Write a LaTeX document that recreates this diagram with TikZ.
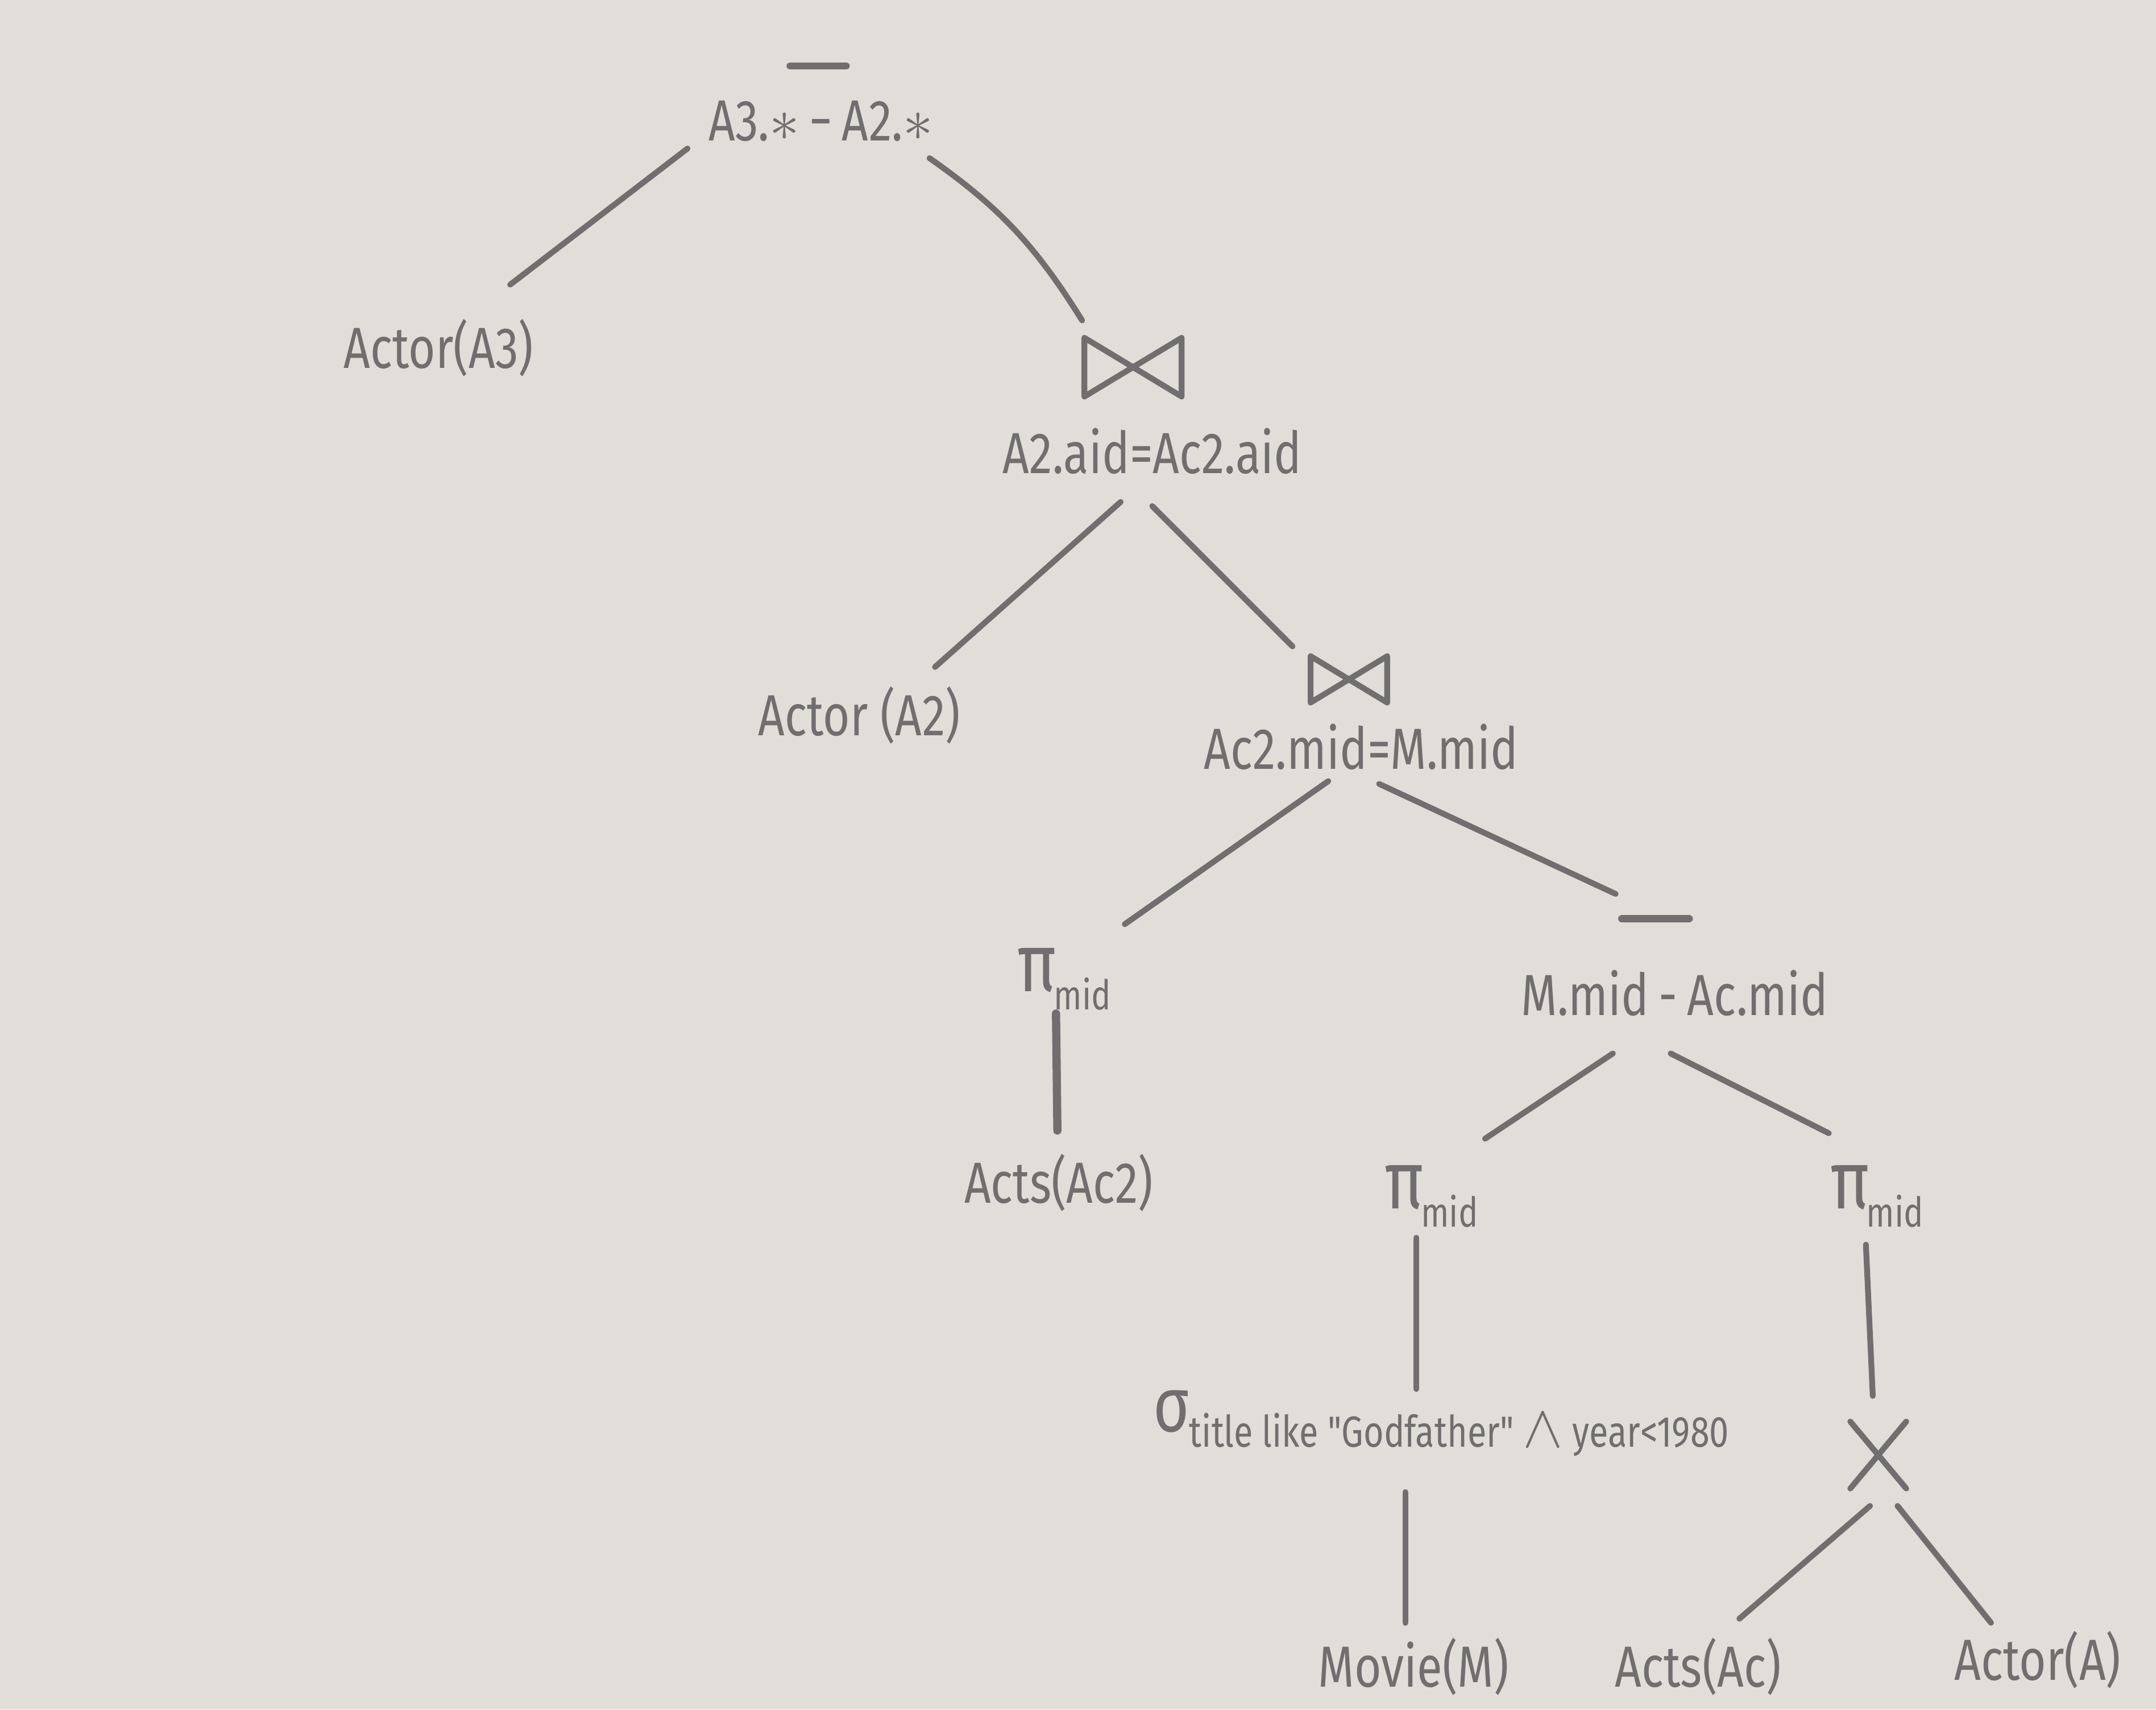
\documentclass[tikz,border=0pt]{standalone}
\usepackage{fontspec}
\setmainfont{Fira Sans}[FakeStretch=0.8, Ligatures=TeXOff]
\usetikzlibrary{calc}
\definecolor{paper}{RGB}{225,222,218}
\definecolor{ink}{RGB}{112,110,110}
\newcommand{\pimid}{{\fontsize{34}{34}\selectfont π}\kern-0.05em\raisebox{-0.6ex}{\fontsize{17}{18}\selectfont mid}}
\begin{document}
\begin{tikzpicture}[x=0.02cm,y=-0.02cm,
  lbl/.style={text=ink, font=\fontsize{24}{28}\selectfont, inner sep=0pt},
  edge/.style={draw=ink, line width=2.4pt, line cap=round, line join=round},
  barnode/.style={inner sep=0pt, minimum height=0pt, minimum width=#1},
  symnode/.style={inner sep=0pt, minimum width=1.4cm, minimum height=0.84cm}]
\fill[paper] (0,0) rectangle (1568,1243);
\useasboundingbox (0,0) rectangle (1568,1243);

% nodes
\node[barnode=0.8cm] (tbar) at (595,48) {};
\node[lbl] (top) at (597,88) {A3.$\ast$\,−\,A2.$\ast$};
\node[lbl] (a3) at (319,253) {Actor(A3)};
\node[symnode] (j1) at (824,267) {};
\node[lbl] (j1l) at (838,328) {A2.aid=Ac2.aid};
\node[lbl] (a2) at (625,520) {Actor (A2)};
\node[symnode, minimum width=1.1cm, minimum height=0.66cm] (j2) at (981,494) {};
\node[lbl] (j2l) at (990,543) {Ac2.mid=M.mid};
\node[lbl] (piL) at (774,712) {\pimid};
\node[lbl] (ac2) at (770,860) {Acts(Ac2)};
\node[barnode=0.96cm] (dbar) at (1204,668) {};
\node[lbl] (dl) at (1218,722) {M.mid\,-\,Ac.mid};
\node[lbl] (p1) at (1041,870) {\pimid};
\node[lbl] (p2) at (1365,870) {\pimid};
\node[lbl] (sig) at (1048,1035) {{\fontsize{32}{32}\selectfont σ}\raisebox{-0.5ex}{\fontsize{18}{20}\selectfont title like "Godfather" {\fontsize{26}{26}\selectfont$\wedge$} year<1980}};
\node[inner sep=0pt, minimum width=0.8cm, minimum height=0.96cm] (cross) at (1366,1058) {};
\node[lbl] (mov) at (1028,1212) {Movie(M)};
\node[lbl] (acs) at (1235,1212) {Acts(Ac)};
\node[lbl] (act) at (1482,1207) {Actor(A)};

% symbols
\draw[edge, line width=3pt] (tbar.west) -- (tbar.east);
\draw[edge, line width=3.2pt] (dbar.west) -- (dbar.east);
\draw[edge] (j1.north west) -- (j1.south east) -- (j1.north east) -- (j1.south west) -- cycle;
\draw[edge] (j2.north west) -- (j2.south east) -- (j2.north east) -- (j2.south west) -- cycle;
\draw[edge] (cross.north west) -- (cross.south east);
\draw[edge] (cross.north east) -- (cross.south west);

% connectors
\draw[edge] ([shift={(-97,20)}]top.center) -- ([shift={(52,-46)}]a3.center);
\draw[edge] ([shift={(79,27)}]top.center) to[out=-35, in=122] ([shift={(-37,-34)}]j1.center);
\draw[edge] ([shift={(-23,37)}]j1l.center) -- ([shift={(55,-35)}]a2.center);
\draw[edge] ([shift={(0,40)}]j1l.center) -- ([shift={(-41,-24)}]j2.center);
\draw[edge] ([shift={(-24,25)}]j2l.center) -- ([shift={(44,-40)}]piL.center);
\draw[edge] ([shift={(13,27)}]j2l.center) -- ([shift={(-29,-18)}]dbar.center);
\draw[edge, line width=3.4pt] ([shift={(-6,25)}]piL.center) -- ([shift={(-1,-38)}]ac2.center);
\draw[edge] ([shift={(-45,44)}]dl.center) -- ([shift={(39,-42)}]p1.center);
\draw[edge] ([shift={(-3,44)}]dl.center) -- ([shift={(-35,-46)}]p2.center);
\draw[edge] ([shift={(-11,30)}]p1.center) -- ([shift={(-18,-25)}]sig.center);
\draw[edge] ([shift={(-8,35)}]p2.center) -- ([shift={(-4,-43)}]cross.center);
\draw[edge] ([shift={(-26,50)}]sig.center) -- ([shift={(-6,-32)}]mov.center);
\draw[edge] ([shift={(-6,37)}]cross.center) -- ([shift={(30,-35)}]acs.center);
\draw[edge] ([shift={(14,37)}]cross.center) -- ([shift={(-34,-27)}]act.center);
\end{tikzpicture}
\end{document}
